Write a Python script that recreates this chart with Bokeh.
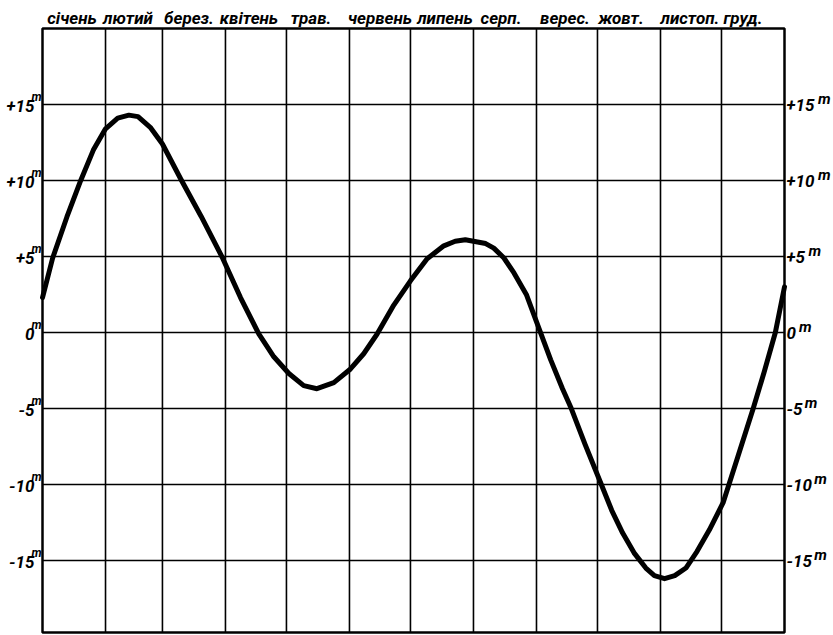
from bokeh.plotting import figure
from bokeh.models import Range1d
from bokeh.core.properties import value
from bokeh.embed import file_html
from bokeh.resources import INLINE

# ---- data -------------------------------------------------------------
month_names = ["січень", "лютий", "берез.", "квітень", "трав.", "червень",
               "липень", "серп.", "верес.", "жовт.", "листоп.", "груд."]
month_days = [31, 28, 31, 30, 31, 30, 31, 31, 30, 31, 30, 31]

# day of year  /  equation of time (minutes)
day = [0, 5, 12, 18.8, 25, 31, 37, 42.5, 47, 53, 59, 68, 78, 88.4, 97.4,
       106.4, 113.8, 121.2, 128.5, 135, 143.3, 151.5, 158, 164.6, 172.8, 181,
       189.2, 197.4, 203, 208, 214, 218, 222, 227, 232, 238, 244.4, 250, 255.8,
       259.8, 267, 274.6, 280, 285.4, 291, 296.8, 301, 306, 311, 316.5, 322,
       328, 334.8, 342, 349.6, 355, 360.5, 365]
minutes = [2.3, 4.9, 7.6, 10.0, 12.0, 13.4, 14.1, 14.3, 14.2, 13.5, 12.4,
           10.1, 7.65, 4.95, 2.3, -0.1, -1.6, -2.7, -3.5, -3.7, -3.3, -2.4,
           -1.4, -0.1, 1.8, 3.4, 4.85, 5.7, 6.0, 6.1, 5.95, 5.85, 5.55, 4.9,
           3.9, 2.5, 0.2, -1.8, -3.7, -4.9, -7.4, -9.9, -11.7, -13.2, -14.5,
           -15.5, -16.0, -16.2, -16.0, -15.5, -14.4, -13.0, -11.2, -8.2, -5.0,
           -2.6, 0.0, 3.0]

y_ticks = [-15, -10, -5, 0, 5, 10, 15]
y_tick_labels = ["-15", "-10", "-5", "0", "+5", "+10", "+15"]
unit_label = "m"

# ---- layout constants ---------------------------------------------------
W, H = 832, 634
BOX_L, BOX_R, BOX_T, BOX_B = 42, 784, 28, 632      # pixel box of the chart
Y_MIN, Y_MAX = -19.74, 20.0                        # value range of the box
# small horizontal nudges (px) of the hand-lettered month names
MONTH_NUDGE = [-2, -6, -5, -7, -7, 0, 3, -4, -2, -8, -1, -10]

bounds = [0]
for d in month_days:
    bounds.append(bounds[-1] + d)
mids = [(bounds[i] + bounds[i + 1]) / 2 for i in range(len(month_days))]
X0, X1 = bounds[0], bounds[-1]

ppx = (BOX_R - BOX_L) / (X1 - X0)
ppy = (BOX_B - BOX_T) / (Y_MAX - Y_MIN)
x_range = Range1d(X0 - BOX_L / ppx, X1 + (W - BOX_R) / ppx)
y_range = Range1d(Y_MIN - (H - BOX_B) / ppy, Y_MAX + BOX_T / ppy)

FONT = value("Roboto")

p = figure(width=W, height=H, x_range=x_range, y_range=y_range,
           x_axis_location=None, y_axis_location=None,
           output_backend="svg", toolbar_location=None,
           min_border=0, background_fill_color="white",
           border_fill_color="white")
p.outline_line_color = None
p.xgrid.visible = False
p.ygrid.visible = False

# grid lines
inner = bounds[1:-1]
p.segment(x0=inner, y0=[Y_MIN] * len(inner), x1=inner, y1=[Y_MAX] * len(inner),
          line_color="black", line_width=1.6)
p.segment(x0=[X0] * len(y_ticks), y0=y_ticks, x1=[X1] * len(y_ticks), y1=y_ticks,
          line_color="black", line_width=1.6)
# outer box
p.quad(left=[X0], right=[X1], bottom=[Y_MIN], top=[Y_MAX], fill_color=None,
       line_color="black", line_width=2.5)

# curve
p.line(day, minutes, line_color="black", line_width=5,
       line_join="round", line_cap="round")

# month names above the box
p.text(x=mids, y=[Y_MAX] * len(mids), text=month_names, text_font=FONT,
       text_font_style="bold italic", text_font_size="17px",
       text_align="center", text_baseline="alphabetic",
       x_offset=MONTH_NUDGE, y_offset=-11, text_color="black")


def est_width(s, size):
    return sum(0.33 * size if ch == "-" else 0.56 * size for ch in s)


NUM_SIZE = 17
n = len(y_ticks)
# left labels
p.text(x=[X0] * n, y=y_ticks, text=y_tick_labels, text_font=FONT,
       text_font_style="bold italic", text_font_size=f"{NUM_SIZE}px",
       text_align="right", text_baseline="middle",
       x_offset=-8, y_offset=2, text_color="black")
p.text(x=[X0] * n, y=y_ticks, text=[unit_label] * n, text_font=FONT,
       text_font_style="bold italic", text_font_size="12px",
       text_align="right", text_baseline="alphabetic",
       x_offset=-1, y_offset=-7, text_color="black")
# right labels
p.text(x=[X1] * n, y=y_ticks, text=y_tick_labels, text_font=FONT,
       text_font_style="bold italic", text_font_size=f"{NUM_SIZE}px",
       text_align="left", text_baseline="middle",
       x_offset=2, y_offset=1, text_color="black")
p.text(x=[X1] * n, y=y_ticks, text=[unit_label] * n, text_font=FONT,
       text_font_style="bold italic", text_font_size="15px",
       text_align="left", text_baseline="alphabetic",
       x_offset=[2 + est_width(s, NUM_SIZE) + 3 for s in y_tick_labels],
       y_offset=-5, text_color="black")

open("out.html", "w").write(file_html(p, INLINE))
